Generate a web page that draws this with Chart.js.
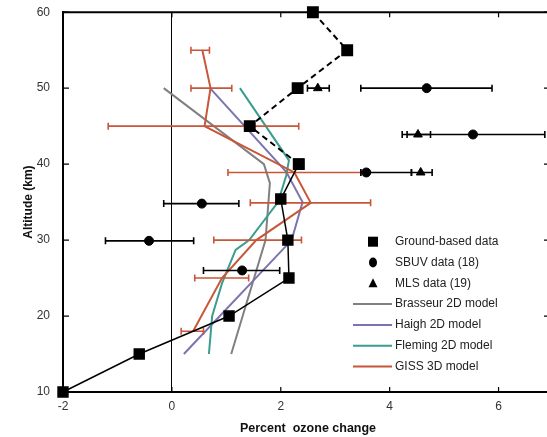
<!DOCTYPE html>
<html>
<head>
<meta charset="utf-8">
<script src="https://cdn.jsdelivr.net/npm/chart.js@4.4.0/dist/chart.umd.min.js"></script>
<style>
  html, body { margin: 0; padding: 0; background: #fff; overflow: hidden; }
  /* o canvas e um pouco maior que a janela para o eixo direito ficar fora da foto */
  #grafico { display: block; margin-top: -8px; }
</style>
</head>
<body>
<canvas id="grafico" width="562" height="445"></canvas>
<script>
// dados: altitude (km) e variação percentual de ozônio

// medidas em solo (quadrados) - linha cheia ate 40 km, tracejada acima
const soloAlt = [10, 15, 20, 25, 30, 35.4, 40, 45, 50, 55, 60];
const soloVal = [-2, -0.6, 1.05, 2.15, 2.13, 2.0, 2.33, 1.43, 2.31, 3.22, 2.59];

// SBUV (circulos) com barras de erro
const sbuvAlt = [50, 43.9, 38.9, 34.8, 29.9, 26];
const sbuvVal = [4.68, 5.53, 3.57, 0.55, -0.42, 1.29];
const sbuvMin = [3.47, 4.23, 3.47, -0.15, -1.22, 0.58];
const sbuvMax = [5.88, 6.85, 4.4, 1.23, 0.4, 1.98];

// MLS (triangulos) com barras de erro
const mlsAlt = [50, 43.9, 38.9];
const mlsVal = [2.68, 4.52, 4.57];
const mlsMin = [2.49, 4.32, 4.4];
const mlsMax = [2.89, 4.75, 4.78];

// modelos (linhas)
const brasseurAlt = [50, 40, 37.5, 30, 15];
const brasseurVal = [-0.15, 1.69, 1.8, 1.72, 1.09];
const haighAlt = [50, 39, 35, 30, 15];
const haighVal = [0.7, 2.1, 2.4, 2.2, 0.22];
const flemingAlt = [50, 40.5, 38.5, 35, 30, 28.7, 24.3, 20, 15];
const flemingVal = [1.25, 2.15, 2.1, 1.95, 1.42, 1.17, 0.92, 0.74, 0.68];
const gissAlt = [55, 50, 45, 38.9, 34.9, 30, 25, 18];
const gissVal = [0.56, 0.71, 0.6, 2.25, 2.55, 1.55, 0.92, 0.39];
const gissMin = [0.35, 0.35, -1.17, 1.03, 1.44, 0.77, 0.42, 0.17];
const gissMax = [0.69, 1.1, 2.33, 3.47, 3.65, 2.38, 1.41, 0.58];

const xTicks = [-2, 0, 2, 4, 6];
const yTicks = [10, 20, 30, 40, 50, 60];

const fonte = "'Liberation Sans', Arial, sans-serif";
const corCinza = '#808080';
const corRoxo = '#7b74b2';
const corVerde = '#3a9d8f';
const corVermelho = '#c8573a';

// junta altitude e valor em pontos {x, y}
function pontos(alt, val) {
  return alt.map((a, i) => ({ x: val[i], y: a }));
}

// barras de erro: dois pontos por barra, separadas por um ponto nulo
function barras(alt, min, max) {
  const pts = [];
  alt.forEach((a, i) => {
    pts.push({ x: min[i], y: a }, { x: max[i], y: a }, { x: null, y: null });
  });
  return pts;
}

function linhaModelo(alt, val, cor, ordem) {
  return {
    data: pontos(alt, val),
    borderColor: cor,
    borderWidth: 2,
    pointRadius: 0,
    showLine: true,
    order: ordem
  };
}

function barraErro(alt, min, max, cor, ordem) {
  return {
    data: barras(alt, min, max),
    borderColor: cor,
    borderWidth: 1.6,
    showLine: true,
    spanGaps: false,
    pointStyle: 'line',
    rotation: 90,
    pointRadius: 3.5,
    pointBorderWidth: 1.6,
    pointBorderColor: cor,
    order: ordem
  };
}

const datasets = [
  // solo: parte cheia (10-40 km)
  {
    data: pontos(soloAlt.slice(0, 7), soloVal.slice(0, 7)),
    borderColor: '#000',
    borderWidth: 1.5,
    showLine: true,
    pointStyle: 'rect',
    pointRadius: 7,
    pointBackgroundColor: '#000',
    pointBorderColor: '#000',
    clip: false,
    order: 0
  },
  // solo: parte tracejada (40-60 km)
  {
    data: pontos(soloAlt.slice(6), soloVal.slice(6)),
    borderColor: '#000',
    borderWidth: 2,
    borderDash: [6, 4],
    showLine: true,
    pointStyle: 'rect',
    pointRadius: 7,
    pointBackgroundColor: '#000',
    pointBorderColor: '#000',
    clip: false,
    order: 0
  },
  barraErro(sbuvAlt, sbuvMin, sbuvMax, '#000', 2),
  barraErro(mlsAlt, mlsMin, mlsMax, '#000', 2),
  {
    data: pontos(sbuvAlt, sbuvVal),
    pointStyle: 'circle',
    pointRadius: 4.5,
    pointBackgroundColor: '#000',
    pointBorderColor: '#000',
    showLine: false,
    order: 1
  },
  {
    data: pontos(mlsAlt, mlsVal),
    pointStyle: 'triangle',
    pointRadius: 5,
    pointBackgroundColor: '#000',
    pointBorderColor: '#000',
    showLine: false,
    order: 1
  },
  barraErro(gissAlt, gissMin, gissMax, corVermelho, 3),
  linhaModelo(gissAlt, gissVal, corVermelho, 4),
  linhaModelo(flemingAlt, flemingVal, corVerde, 5),
  linhaModelo(haighAlt, haighVal, corRoxo, 6),
  linhaModelo(brasseurAlt, brasseurVal, corCinza, 7)
];

// legenda desenhada dentro da area do grafico
const itensLegenda = [
  { tipo: 'rect', texto: 'Ground-based data' },
  { tipo: 'circle', texto: 'SBUV data (18)' },
  { tipo: 'triangle', texto: 'MLS data (19)' },
  { tipo: 'line', cor: corCinza, texto: 'Brasseur 2D model' },
  { tipo: 'line', cor: corRoxo, texto: 'Haigh 2D model' },
  { tipo: 'line', cor: corVerde, texto: 'Fleming 2D model' },
  { tipo: 'line', cor: corVermelho, texto: 'GISS 3D model' }
];

const molduraPlugin = {
  id: 'moldura',
  afterDraw(chart) {
    const ctx = chart.ctx;
    const area = chart.chartArea;
    const sx = chart.scales.x;
    const sy = chart.scales.y;
    ctx.save();
    ctx.strokeStyle = '#000';
    // linha do topo
    ctx.lineWidth = 2;
    ctx.beginPath();
    ctx.moveTo(area.left - 1, area.top);
    ctx.lineTo(area.right, area.top);
    ctx.stroke();
    // marcas para dentro
    ctx.lineWidth = 1.2;
    ctx.beginPath();
    xTicks.forEach(v => {
      const px = sx.getPixelForValue(v);
      ctx.moveTo(px, area.bottom);
      ctx.lineTo(px, area.bottom - 5);
      ctx.moveTo(px, area.top);
      ctx.lineTo(px, area.top + 5);
    });
    yTicks.forEach(v => {
      const py = sy.getPixelForValue(v);
      ctx.moveTo(area.left, py);
      ctx.lineTo(area.left + 6, py);
      ctx.moveTo(area.right, py);
      ctx.lineTo(area.right - 9, py);
    });
    ctx.stroke();

    // legenda (posicoes relativas a area do grafico)
    const x0 = area.left + 290, x1 = area.left + 329;
    const xm = area.left + 310, xt = area.left + 332;
    ctx.font = '12px ' + fonte;
    ctx.textBaseline = 'middle';
    itensLegenda.forEach((it, i) => {
      const y = area.top + 229.5 + i * 20.8;
      ctx.fillStyle = '#000';
      if (it.tipo === 'rect') {
        ctx.fillRect(xm - 5, y - 5, 10, 10);
      } else if (it.tipo === 'circle') {
        ctx.beginPath();
        ctx.ellipse(xm, y, 4, 5, 0, 0, Math.PI * 2);
        ctx.fill();
      } else if (it.tipo === 'triangle') {
        ctx.beginPath();
        ctx.moveTo(xm, y - 5);
        ctx.lineTo(xm + 4.5, y + 4);
        ctx.lineTo(xm - 4.5, y + 4);
        ctx.closePath();
        ctx.fill();
      } else {
        ctx.strokeStyle = it.cor;
        ctx.lineWidth = 2;
        ctx.beginPath();
        ctx.moveTo(x0, y);
        ctx.lineTo(x1, y);
        ctx.stroke();
      }
      ctx.fillStyle = '#222';
      ctx.fillText(it.texto, xt, y);
    });
    ctx.restore();
  }
};

new Chart(document.getElementById('grafico'), {
  type: 'scatter',
  data: { datasets: datasets },
  options: {
    responsive: false,
    animation: false,
    events: [],
    layout: { padding: { top: 0, right: 0, left: 0, bottom: 0 } },
    plugins: {
      legend: { display: false },
      tooltip: { enabled: false }
    },
    scales: {
      x: {
        type: 'linear',
        min: -2,
        max: 7,
        afterFit(s) { s.height = 45; },
        border: { color: '#000', width: 2 },
        grid: {
          drawTicks: false,
          lineWidth: 1,
          color: c => (c.tick && c.tick.value === 0 ? '#000' : 'rgba(0,0,0,0)')
        },
        ticks: {
          stepSize: 2,
          includeBounds: false,
          padding: 7,
          color: '#333',
          font: { family: fonte, size: 12 }
        },
        title: {
          display: true,
          text: 'Percent  ozone change',
          color: '#111',
          font: { family: fonte, size: 12.5, weight: 'bold' },
          padding: { top: 0, bottom: 1 }
        }
      },
      y: {
        type: 'linear',
        min: 10,
        max: 60,
        afterFit(s) { s.width = 63; },
        border: { color: '#000', width: 2 },
        grid: { drawTicks: false, color: 'rgba(0,0,0,0)' },
        ticks: {
          stepSize: 10,
          padding: 13,
          color: '#333',
          font: { family: fonte, size: 12 }
        },
        title: {
          display: true,
          text: 'Altitude (km)',
          color: '#111',
          font: { family: fonte, size: 12, weight: 'bold' },
          padding: { top: 21, bottom: 0 }
        }
      }
    }
  },
  plugins: [molduraPlugin]
});
</script>
</body>
</html>
